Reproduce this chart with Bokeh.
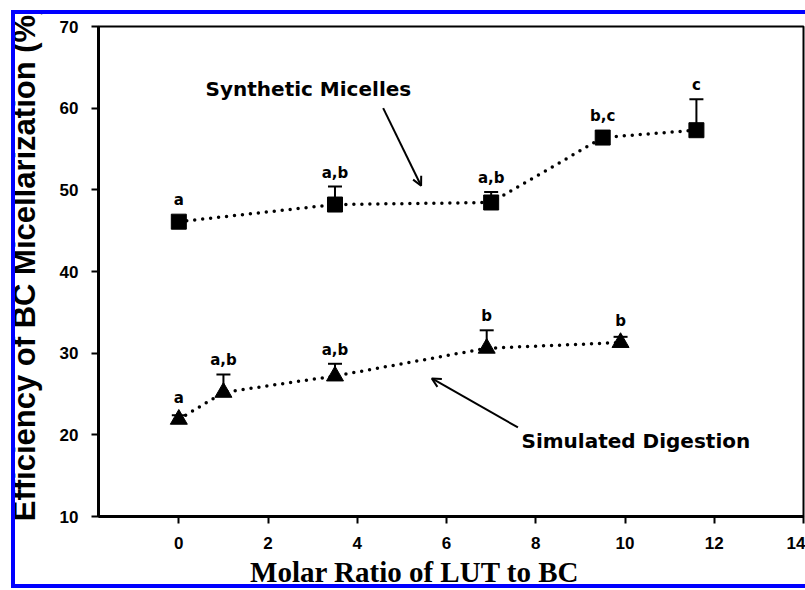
import math
from bokeh.plotting import figure
from bokeh.models import (ColumnDataSource, Whisker, TeeHead, Arrow, OpenHead, Label,
                          LabelSet, FixedTicker, Range1d, InlineStyleSheet)
from bokeh.embed import file_html
from bokeh.resources import INLINE
from bokeh.core.properties import value

# ---- data ----
sm_x = [0, 3.5, 7, 9.5, 11.6]
sm_y = [46.1, 48.2, 48.45, 56.4, 57.3]
sm_err = [0.3, 2.2, 1.3, 0.8, 3.8]
sm_sig = ["a", "a,b", "a,b", "b,c", "c"]

sd_x = [0, 1, 3.5, 6.9, 9.9]
sd_y = [21.9, 25.2, 27.2, 30.6, 31.3]
sd_err = [0.5, 2.2, 1.5, 2.2, 0.7]
sd_sig = ["a", "a,b", "a,b", "b", "b"]

x_ticks = [0, 2, 4, 6, 8, 10, 12, 14]
y_ticks = [10, 20, 30, 40, 50, 60, 70]
x_title = "Molar Ratio of LUT to BC"
y_title = "Efficiency of BC Micellarization (%)"
sm_name = "Synthetic Micelles"
sd_name = "Simulated Digestion"

W, H = 805, 590
NB = "\u00a0"

p = figure(width=W, height=H, output_backend="svg", toolbar_location=None,
           x_range=Range1d(-1.8, 14), y_range=Range1d(10, 70),
           min_border_left=98, min_border_right=2, min_border_top=26, min_border_bottom=73)
p.background_fill_color = "white"
p.border_fill_color = "white"
p.grid.visible = False
p.outline_line_color = "black"
p.outline_line_width = 2
p.outline_line_alpha = 1

for ax, ticks in ((p.xaxis, x_ticks), (p.yaxis, y_ticks)):
    ax.ticker = FixedTicker(ticks=ticks)
    ax.axis_line_width = 3
    ax.axis_line_color = "black"
    ax.major_tick_line_width = 2
    ax.major_tick_line_color = "black"
    ax.major_tick_in = 0
    ax.major_tick_out = 7
    ax.minor_tick_in = 0
    ax.minor_tick_out = 0
    ax.major_label_text_font = "Liberation Sans"
    ax.major_label_text_font_style = "bold"
    ax.major_label_text_font_size = "17px"
    ax.major_label_text_color = "black"
    ax.major_label_standoff = 13
    ax.axis_label_text_color = "black"
    ax.axis_label_text_font_style = "bold"

# axis titles (padding shifts them off-centre like the original)
p.yaxis.axis_label = NB * 2 + y_title
p.yaxis.axis_label_text_font = "Liberation Sans"
p.yaxis.axis_label_text_font_size = "31px"
p.yaxis.axis_label_standoff = 15
p.xaxis.axis_label = x_title + NB * 10
p.xaxis.axis_label_text_font = "Liberation Serif"
p.xaxis.axis_label_text_font_size = "29px"
p.xaxis.axis_label_standoff = 4

# dotted connecting lines
p.line(sm_x, sm_y, line_color="black", line_width=3.5, line_dash="0 8", line_cap="round")
p.line(sd_x, sd_y, line_color="black", line_width=3.5, line_dash="0 8", line_cap="round")

def add_series(xs, ys, errs, sig, marker, size):
    src = ColumnDataSource(dict(
        x=xs, y=ys, top=[y + e for y, e in zip(ys, errs)],
        ly=[max(y + e, y + 0.9) for y, e in zip(ys, errs)], sig=sig))
    p.add_layout(Whisker(source=src, base="x", lower="y", upper="top", dimension="height",
                         line_width=2, line_color="black",
                         upper_head=TeeHead(size=14, line_width=2, line_color="black"),
                         lower_head=None, level="glyph"))
    p.scatter("x", "y", source=src, marker=marker, size=size, color="black")
    p.add_layout(LabelSet(x="x", y="ly", text="sig", source=src, y_offset=9,
                          text_align="center", text_baseline="alphabetic",
                          text_font=value("DejaVu Sans"), text_font_style="bold",
                          text_font_size="15px", text_color="black"))

add_series(sm_x, sm_y, sm_err, sm_sig, "square", 15)
add_series(sd_x, sd_y, sd_err, sd_sig, "triangle", 17)

# arrows and series names
p.add_layout(Arrow(x_start=4.58, y_start=60.0, x_end=5.43, y_end=50.5, line_width=2,
                   line_color="black", end=OpenHead(size=9, line_width=2, line_color="black")))
p.add_layout(Arrow(x_start=7.6, y_start=20.9, x_end=5.67, y_end=26.9, line_width=2,
                   line_color="black", end=OpenHead(size=9, line_width=2, line_color="black")))
p.add_layout(Label(x=0.6, y=62.3, text=sm_name, text_font="DejaVu Sans", text_font_style="bold",
                   text_font_size="20px", text_baseline="middle", text_align="left",
                   text_color="black"))
p.add_layout(Label(x=7.68, y=19.2, text=sd_name, text_font="DejaVu Sans", text_font_style="bold",
                   text_font_size="20px", text_baseline="middle", text_align="left",
                   text_color="black"))

# blue scan border (left, top, bottom) with white trims, drawn over the figure
p.stylesheets = [InlineStyleSheet(css="""
:host { position: relative; }
:host::before {
  content: ""; position: absolute; left: 0; top: 0; width: 805px; height: 590px;
  box-sizing: border-box; border-style: solid; border-color: #ffffff;
  border-width: 10px 0 2px 11px; pointer-events: none; z-index: 10;
}
:host::after {
  content: ""; position: absolute; left: 11px; top: 10px; width: 794px; height: 578px;
  box-sizing: border-box; border-style: solid; border-color: #0000ff;
  border-width: 4px 0 4px 4px; pointer-events: none; z-index: 11;
}
""")]

open("out.html", "w").write(file_html(p, INLINE))
